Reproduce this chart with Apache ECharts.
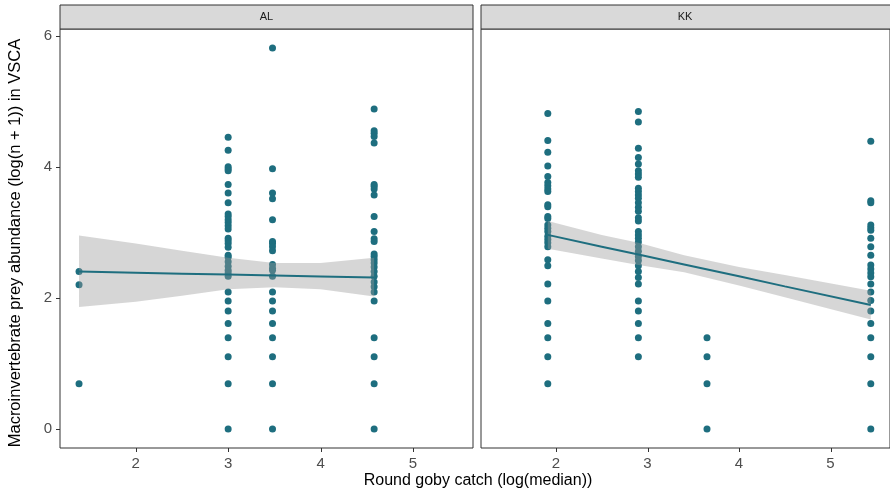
<!DOCTYPE html>
<html>
<head>
<meta charset="utf-8">
<script src="https://cdn.jsdelivr.net/npm/echarts@6/dist/echarts.min.js"></script>
<style>
  html, body { margin: 0; padding: 0; background: #fff; }
  #chart { width: 890px; height: 493px; }
</style>
</head>
<body>
<div id="chart"></div>
<script>
// facets
const panels = ['AL', 'KK']

// AL: x columns and the y values read at each column
const alColX = [1.386, 3.0, 3.48, 4.58]
const alColY = [
  [2.40, 2.20, 0.69],
  [4.45, 4.25, 4.00, 3.97, 3.94, 3.73, 3.60, 3.45, 3.28, 3.24, 3.19, 3.15, 3.10, 3.05, 2.91, 2.87, 2.83, 2.77,
    2.65, 2.62, 2.55, 2.48, 2.42, 2.38, 2.33, 2.09, 1.95, 1.80, 1.61, 1.39, 1.10, 0.69, 0],
  [5.81, 3.97, 3.60, 3.51, 3.19, 2.86, 2.83, 2.78, 2.72, 2.51, 2.45, 2.42, 2.33, 2.09, 1.95, 1.80, 1.61, 1.39,
    1.10, 0.69, 0],
  [4.88, 4.55, 4.51, 4.46, 4.36, 3.73, 3.70, 3.66, 3.57, 3.24, 3.01, 2.90, 2.86, 2.67, 2.63, 2.58, 2.53, 2.47,
    2.40, 2.33, 2.24, 2.17, 2.09, 1.95, 1.39, 1.10, 0.69, 0]
]

// KK
const kkColX = [1.91, 2.9, 3.65, 5.44]
const kkColY = [
  [4.81, 4.40, 4.22, 4.01, 3.85, 3.76, 3.71, 3.66, 3.62, 3.42, 3.39, 3.24, 3.21, 3.11, 3.06, 3.01, 2.94, 2.89,
    2.84, 2.78, 2.58, 2.49, 2.21, 1.95, 1.61, 1.39, 1.10, 0.69],
  [4.84, 4.68, 4.28, 4.14, 4.04, 3.94, 3.89, 3.84, 3.67, 3.62, 3.57, 3.52, 3.45, 3.38, 3.32, 3.22, 3.17, 3.01,
    2.96, 2.91, 2.85, 2.78, 2.71, 2.63, 2.57, 2.49, 2.40, 2.31, 2.21, 1.95, 1.80, 1.61, 1.39, 1.10],
  [1.39, 1.10, 0.69, 0],
  [4.39, 3.48, 3.45, 3.11, 3.07, 3.03, 2.91, 2.78, 2.65, 2.50, 2.44, 2.38, 2.32, 2.21, 2.09, 1.96, 1.80, 1.61,
    1.39, 1.10, 0.69, 0]
]

// lm fit + 95% band
const alFitX = [1.386, 2.0, 2.5, 3.0, 3.5, 4.0, 4.58]
const alFit = [2.40, 2.383, 2.369, 2.355, 2.341, 2.327, 2.31]
const alUpper = [2.95, 2.83, 2.72, 2.61, 2.53, 2.53, 2.61]
const alLower = [1.86, 1.94, 2.03, 2.13, 2.16, 2.13, 2.02]

const kkFitX = [1.91, 2.5, 2.9, 3.4, 4.0, 4.5, 5.44]
const kkFit = [2.96, 2.78, 2.66, 2.51, 2.33, 2.175, 1.89]
const kkUpper = [3.17, 2.96, 2.84, 2.65, 2.47, 2.35, 2.11]
const kkLower = [2.75, 2.60, 2.50, 2.39, 2.19, 2.01, 1.67]

const xTicks = [2, 3, 4, 5]
const yTicks = [0, 2, 4, 6]

const xMin = 1.18, xMax = 5.65
const yMin = -0.29, yMax = 6.1

const teal = '#1e6e7f'
const font = 'Liberation Sans, Arial, sans-serif'

function points(colX, colY) {
  const out = []
  colX.forEach((x, i) => colY[i].forEach(y => out.push([x, y])))
  return out
}

function bandSeries(idx, xs, lo, hi) {
  return {
    type: 'custom',
    xAxisIndex: idx,
    yAxisIndex: idx,
    z: 3,
    silent: true,
    data: xs.map((x, i) => [x, lo[i], hi[i]]),
    renderItem: function (params, api) {
      if (params.dataIndex !== 0) return
      const top = xs.map((x, i) => api.coord([x, hi[i]]))
      const bot = xs.map((x, i) => api.coord([x, lo[i]])).reverse()
      return {
        type: 'polygon',
        shape: { points: top.concat(bot) },
        style: { fill: 'rgba(153,153,153,0.4)' }
      }
    }
  }
}

function xAxis(idx) {
  return {
    type: 'value',
    gridIndex: idx,
    min: xMin,
    max: xMax,
    position: 'bottom',
    axisLine: { show: false, onZero: false },
    splitLine: { show: false },
    axisTick: { show: false },
    axisLabel: { customValues: xTicks, margin: 8, color: '#4d4d4d', fontSize: 15, fontFamily: font }
  }
}

function yAxis(idx) {
  const first = idx === 0
  return {
    type: 'value',
    gridIndex: idx,
    min: yMin,
    max: yMax,
    position: 'left',
    axisLine: { show: false, onZero: false },
    splitLine: { show: false },
    axisTick: { show: false },
    axisLabel: { show: first, customValues: yTicks, margin: 8, color: '#4d4d4d', fontSize: 15, fontFamily: font }
  }
}

const chart = echarts.init(document.getElementById('chart'), null, { renderer: 'canvas' })

const grids = [
  { left: 60, top: 29, width: 413, height: 419 },
  { left: 481, top: 29, width: 416, height: 419 }
]

const graphics = [
  ...grids.map((g, i) => ({
    type: 'group',
    children: [
      {
        type: 'rect',
        shape: { x: g.left, y: 5, width: g.width, height: 24 },
        style: { fill: '#d9d9d9', stroke: '#333', lineWidth: 1 }
      },
      {
        type: 'text',
        x: g.left + g.width / 2 - (i === 1 ? 4 : 0),
        y: 17,
        style: {
          text: panels[i], fill: '#1a1a1a', fontSize: 11, fontFamily: font,
          textAlign: 'center', textVerticalAlign: 'middle'
        }
      }
    ]
  })),
  {
    type: 'text',
    x: 478,
    y: 481,
    style: {
      text: 'Round goby catch (log(median))', fill: '#000', fontSize: 16, fontFamily: font,
      textAlign: 'center', textVerticalAlign: 'middle'
    }
  },
  {
    type: 'text',
    x: 15,
    y: 243,
    rotation: Math.PI / 2,
    style: {
      text: 'Macroinvertebrate prey abundance (log(n + 1)) in VSCA', fill: '#000', fontSize: 16.5, fontFamily: font,
      textAlign: 'center', textVerticalAlign: 'middle'
    }
  }
]

const option = {
  animation: false,
  backgroundColor: '#fff',
  grid: grids.map(g => Object.assign({ show: true, borderColor: '#333', borderWidth: 1, backgroundColor: '#fff' }, g)),
  xAxis: [xAxis(0), xAxis(1)],
  yAxis: [yAxis(0), yAxis(1)],
  graphic: graphics,
  series: [
    {
      type: 'scatter', xAxisIndex: 0, yAxisIndex: 0, z: 2,
      symbolSize: 7, itemStyle: { color: teal, opacity: 1 },
      data: points(alColX, alColY)
    },
    {
      type: 'scatter', xAxisIndex: 1, yAxisIndex: 1, z: 2,
      symbolSize: 7, itemStyle: { color: teal, opacity: 1 },
      data: points(kkColX, kkColY)
    },
    bandSeries(0, alFitX, alLower, alUpper),
    bandSeries(1, kkFitX, kkLower, kkUpper),
    {
      type: 'line', xAxisIndex: 0, yAxisIndex: 0, z: 4, symbol: 'none',
      lineStyle: { color: teal, width: 2 },
      data: alFitX.map((x, i) => [x, alFit[i]])
    },
    {
      type: 'line', xAxisIndex: 1, yAxisIndex: 1, z: 4, symbol: 'none',
      lineStyle: { color: teal, width: 2 },
      data: kkFitX.map((x, i) => [x, kkFit[i]])
    }
  ]
}

chart.setOption(option)

// tick marks, placed through the axes' own scales
const ticks = []
grids.forEach((g, i) => {
  xTicks.forEach(v => {
    const p = chart.convertToPixel({ gridIndex: i }, [v, yMin])
    const x = Math.round(p[0]) + 0.5
    ticks.push({ type: 'line', z: 100, shape: { x1: x, y1: p[1], x2: x, y2: p[1] + 4 }, style: { stroke: '#333', lineWidth: 1 } })
  })
})
yTicks.forEach(v => {
  const p = chart.convertToPixel({ gridIndex: 0 }, [xMin, v])
  const y = Math.round(p[1]) + 0.5
  ticks.push({ type: 'line', z: 100, shape: { x1: p[0] - 4, y1: y, x2: p[0], y2: y }, style: { stroke: '#333', lineWidth: 1 } })
})
chart.setOption({ graphic: graphics.concat(ticks) })

window.addEventListener('resize', chart.resize)
</script>
</body>
</html>
